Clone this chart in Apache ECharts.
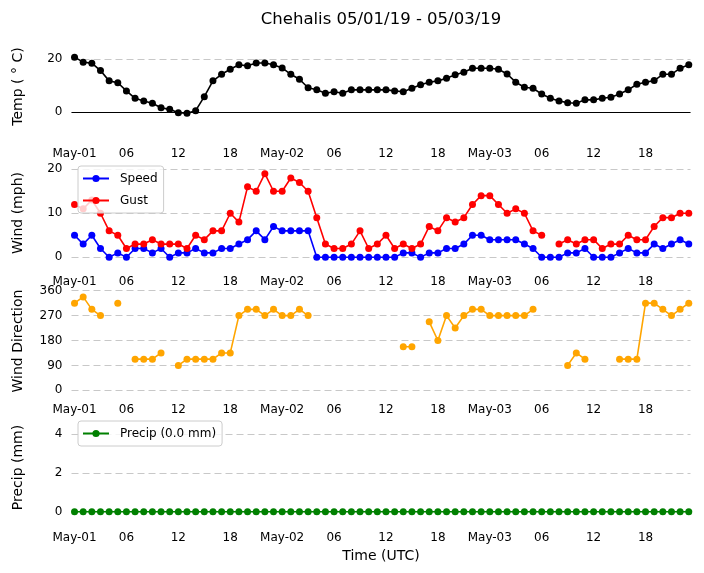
<!DOCTYPE html>
<html>
<head>
<meta charset="utf-8">
<title>Chehalis</title>
<script src="https://cdn.jsdelivr.net/npm/echarts@6/dist/echarts.min.js"></script>
<style>
html, body { margin: 0; padding: 0; background: #fff; }
#main { width: 704px; height: 573px; }
</style>
</head>
<body>
<div id="main"></div>
<script>
// time axis ticks (hours from May-01 00 UTC)
var tickHours = [0, 6, 12, 18, 24, 30, 36, 42, 48, 54, 60, 66];
var tickLabels = ['May-01', '06', '12', '18', 'May-02', '06', '12', '18', 'May-03', '06', '12', '18'];

// hourly observations, May-01 00 .. May-03 23
var temp = [20.8, 18.9, 18.5, 15.7, 11.8, 11.1, 8.0, 5.2, 4.2, 3.3, 1.6, 1.0,
            -0.3, -0.5, 0.5, 5.8, 11.8, 14.3, 16.2, 17.9, 17.5, 18.6, 18.6, 17.9,
            16.7, 14.3, 12.4, 9.2, 8.4, 7.1, 7.7, 7.1, 8.4, 8.4, 8.4, 8.4,
            8.4, 8.0, 7.7, 9.0, 10.3, 11.3, 11.8, 12.8, 14.1, 15.1, 16.6, 16.6,
            16.6, 16.2, 14.4, 11.3, 9.4, 9.0, 6.8, 5.2, 4.2, 3.5, 3.3, 4.6,
            4.6, 5.2, 5.6, 6.8, 8.4, 10.5, 11.3, 11.9, 14.3, 14.3, 16.6, 17.9];
var speed = [5, 3, 5, 2, 0, 1, 0, 2, 2, 1, 2, 0,
             1, 1, 2, 1, 1, 2, 2, 3, 4, 6, 4, 7,
             6, 6, 6, 6, 0, 0, 0, 0, 0, 0, 0, 0,
             0, 0, 1, 1, 0, 1, 1, 2, 2, 3, 5, 5,
             4, 4, 4, 4, 3, 2, 0, 0, 0, 1, 1, 2,
             0, 0, 0, 1, 2, 1, 1, 3, 2, 3, 4, 3];
var gust = [12, 11, 13, 10, 6, 5, 2, 3, 3, 4, 3, 3,
            3, 2, 5, 4, 6, 6, 10, 8, 16, 15, 19, 15,
            15, 18, 17, 15, 9, 3, 2, 2, 3, 6, 2, 3,
            5, 2, 3, 2, 3, 7, 6, 9, 8, 9, 12, 14,
            14, 12, 10, 11, 10, 6, 5, null, 3, 4, 3, 4,
            4, 2, 3, 3, 5, 4, 4, 7, 9, 9, 10, 10];
var direction = [315, 337.5, 292.5, 270, null, 315, null, 112.5, 112.5, 112.5, 135, null,
                 90, 112.5, 112.5, 112.5, 112.5, 135, 135, 270, 292.5, 292.5, 270, 292.5,
                 270, 270, 292.5, 270, null, null, null, null, null, null, null, null,
                 null, null, 157.5, 157.5, null, 247.5, 180, 270, 225, 270, 292.5, 292.5,
                 270, 270, 270, 270, 270, 292.5, null, null, null, 90, 135, 112.5,
                 null, null, null, 112.5, 112.5, 112.5, 315, 315, 292.5, 270, 292.5, 315];
var precip = [0, 0, 0, 0, 0, 0, 0, 0, 0, 0, 0, 0,
              0, 0, 0, 0, 0, 0, 0, 0, 0, 0, 0, 0,
              0, 0, 0, 0, 0, 0, 0, 0, 0, 0, 0, 0,
              0, 0, 0, 0, 0, 0, 0, 0, 0, 0, 0, 0,
              0, 0, 0, 0, 0, 0, 0, 0, 0, 0, 0, 0,
              0, 0, 0, 0, 0, 0, 0, 0, 0, 0, 0, 0];

var tempTicks = [0, 20];
var windTicks = [0, 10, 20];
var dirTicks = [0, 90, 180, 270, 360];
var precipTicks = [0, 2, 4];

function pairs(vals) {
    var out = [];
    for (var i = 0; i < vals.length; i++) {
        out.push([i, vals[i]]);
    }
    return out;
}

var font = 'DejaVu Sans';
var panels = [
    {top: 35, height: 103, min: -9.87, max: 29.2, ticks: tempTicks, name: 'Temp ( \u00b0 C)'},
    {top: 160, height: 106, min: -1.98, max: 22.1, ticks: windTicks, name: 'Wind (mph)'},
    {top: 288, height: 106, min: -13.4, max: 369.7, ticks: dirTicks, name: 'Wind Direction'},
    {top: 413, height: 109, min: -0.53, max: 5.09, ticks: precipTicks, name: 'Precip (mm)'}
];

var grids = [], xAxes = [], yAxes = [];
for (var p = 0; p < panels.length; p++) {
    grids.push({left: 71.5, right: 13.5, top: panels[p].top, height: panels[p].height});
    xAxes.push({
        type: 'value', gridIndex: p, min: -0.35, max: 71.2,
        axisLine: {show: false},
        axisTick: {show: false, customValues: tickHours},
        splitLine: {show: false},
        axisLabel: {
            customValues: tickHours, margin: 9.5, fontSize: 12, color: '#000', fontFamily: font,
            formatter: function (v) { return tickLabels[tickHours.indexOf(v)]; }
        }
    });
    yAxes.push({
        type: 'value', gridIndex: p, min: panels[p].min, max: panels[p].max,
        name: panels[p].name, nameLocation: 'middle', nameGap: 46,
        nameTextStyle: {fontSize: 14, color: '#000', fontFamily: font},
        axisLine: {show: false},
        axisTick: {show: false, customValues: panels[p].ticks},
        axisLabel: {customValues: panels[p].ticks, margin: 9, fontSize: 12, color: '#000', fontFamily: font},
        splitLine: {show: true, lineStyle: {color: '#c8c8c8', type: [7, 4], width: 1}}
    });
}

function lineSeries(name, idx, vals, color) {
    return {
        name: name, type: 'line', xAxisIndex: idx, yAxisIndex: idx,
        data: pairs(vals), color: color,
        symbol: 'circle', symbolSize: 7, showSymbol: true, clip: false,
        connectNulls: false,
        lineStyle: {color: color, width: 1.6},
        itemStyle: {color: color}
    };
}

var tempSeries = lineSeries('Temp', 0, temp, '#000');
tempSeries.markLine = {
    silent: true, symbol: 'none', label: {show: false},
    lineStyle: {color: '#000', type: 'solid', width: 1},
    data: [{yAxis: 0}]
};

var legendBox = {
    orient: 'vertical', left: 78, itemWidth: 26, itemHeight: 9, itemGap: 10,
    padding: [6.5, 6, 6.5, 4],
    borderColor: '#cccccc', borderWidth: 1, borderRadius: 3,
    backgroundColor: 'rgba(255,255,255,0.8)',
    textStyle: {fontSize: 12, color: '#000', fontFamily: font, padding: [0, 0, 0, 6]}
};

var myChart = echarts.init(document.getElementById('main'));
myChart.setOption({
    animation: false,
    textStyle: {fontFamily: font},
    grid: grids,
    xAxis: xAxes,
    yAxis: yAxes,
    legend: [
        echarts.util.extend({top: 166, data: ['Speed', 'Gust']}, legendBox),
        echarts.util.extend({top: 421, data: ['Precip (0.0 mm)']}, legendBox)
    ],
    graphic: [
        {type: 'text', x: 381, y: 20, style: {text: 'Chehalis 05/01/19 - 05/03/19', fontSize: 16.5, fontFamily: font, fill: '#000', align: 'center', verticalAlign: 'middle'}},
        {type: 'text', x: 381, y: 556, style: {text: 'Time (UTC)', fontSize: 14, fontFamily: font, fill: '#000', align: 'center', verticalAlign: 'middle'}}
    ],
    series: [
        tempSeries,
        lineSeries('Speed', 1, speed, '#0000ff'),
        lineSeries('Gust', 1, gust, '#ff0000'),
        lineSeries('Direction', 2, direction, '#ffa500'),
        lineSeries('Precip (0.0 mm)', 3, precip, '#008000')
    ]
});
</script>
</body>
</html>
